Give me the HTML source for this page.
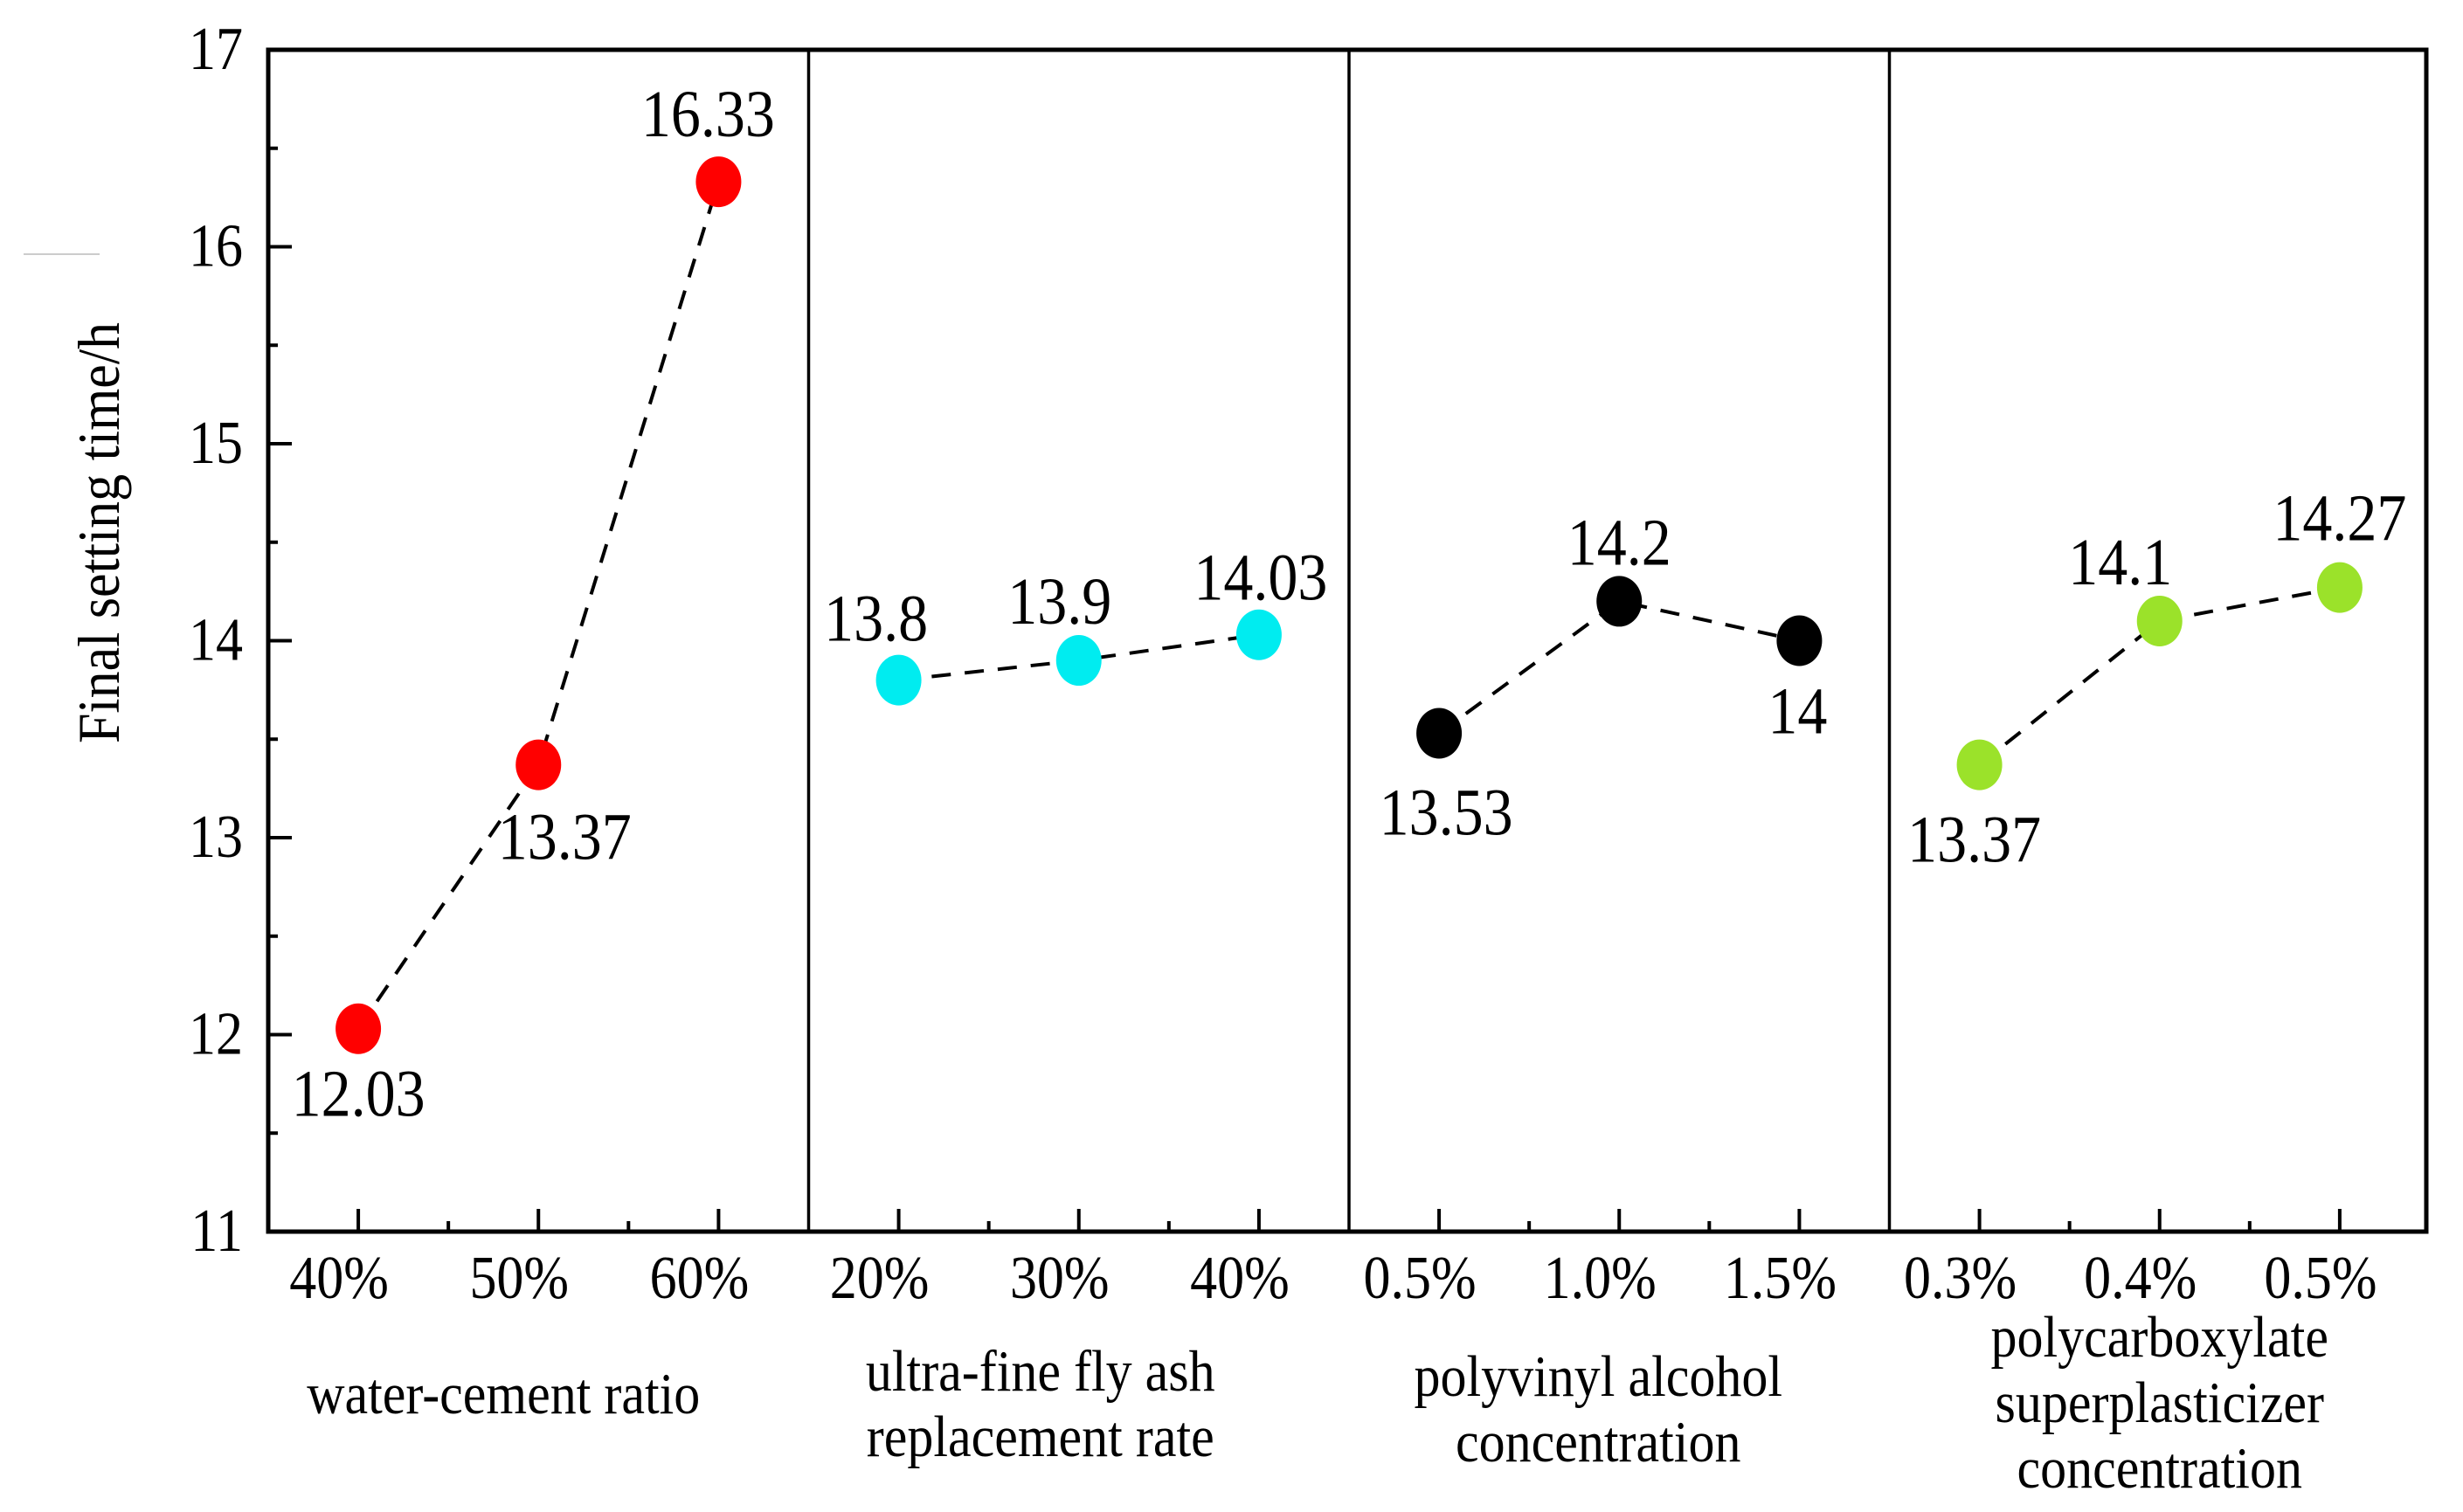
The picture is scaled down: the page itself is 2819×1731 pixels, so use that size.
<!DOCTYPE html>
<html><head><meta charset="utf-8"><style>
html,body{margin:0;padding:0;background:#fff;}
svg{display:block;font-family:"Liberation Serif",serif;}
</style></head><body>
<svg id="chart" width="2819" height="1731" viewBox="0 0 2819 1731" xmlns="http://www.w3.org/2000/svg">
<line x1="27" y1="291" x2="114" y2="291" stroke="#ccc" stroke-width="2"/>
<text transform="translate(136,610) rotate(-90) scale(1,1.1)" text-anchor="middle" font-size="62">Final setting time/h</text>
<g id="plot"></g>
</svg>
<script>
const yTicks = [11,12,13,14,15,16,17];
const groupNames = ["water-cement ratio","ultra-fine fly ash replacement rate","polyvinyl alcohol concentration","polycarboxylate superplasticizer concentration"];
const groupLabelLines = [["water-cement ratio"],["ultra-fine fly ash","replacement rate"],["polyvinyl alcohol","concentration"],["polycarboxylate","superplasticizer","concentration"]];
const xLabelsWC = ["40%","50%","60%"];
const xLabelsFA = ["20%","30%","40%"];
const xLabelsPVA = ["0.5%","1.0%","1.5%"];
const xLabelsPCE = ["0.3%","0.4%","0.5%"];
const valuesWC = [12.03,13.37,16.33];
const valuesFA = [13.8,13.9,14.03];
const valuesPVA = [13.53,14.2,14.0];
const valuesPCE = [13.37,14.1,14.27];
const printedWC = ["12.03","13.37","16.33"];
const printedFA = ["13.8","13.9","14.03"];
const printedPVA = ["13.53","14.2","14"];
const printedPCE = ["13.37","14.1","14.27"];

const colors = ["#ff0000","#00ecf0","#000000","#9be22a"];
const labelOff = [[[0,100],[30,108],[-12,-52]],[[-26,-45],[-22,-42],[2,-40]],[[8,116],[0,-42],[-2,106]],[[-6,111],[-45,-42],[0,-54]]];

const NS="http://www.w3.org/2000/svg";
const plot=document.getElementById('plot');
const L=307,T=57,B=1410,PW=618.5,R=L+PW*4-4;
const ymin=11,ymax=17;
function y(v){return B-(v-ymin)*(B-T)/(ymax-ymin);}
function x(g,i){return L+g*PW+PW/6*(2*i+1);}
function mk(tag,attrs,parent){const e=document.createElementNS(NS,tag);for(const k in attrs)e.setAttribute(k,attrs[k]);(parent||plot).appendChild(e);return e;}
function txt(px,py,size,s,parent){
  const t=mk('text',{transform:'translate('+px+','+py+') scale(1,1.12)','text-anchor':'middle','font-size':size},parent);
  t.textContent=s;return t;
}

const xLabels=[xLabelsWC,xLabelsFA,xLabelsPVA,xLabelsPCE];
const values=[valuesWC,valuesFA,valuesPVA,valuesPCE];
const printed=[printedWC,printedFA,printedPVA,printedPCE];

const frame=mk('rect',{x:L,y:T,width:R-L,height:B-T,fill:'none',stroke:'#000','stroke-width':5});


for(let g=1;g<4;g++){
  const d=mk('line',{x1:L+g*PW,y1:T,x2:L+g*PW,y2:B,stroke:'#000','stroke-width':3.5});
  
  
}
yTicks.forEach((t,i)=>{
  const yy=y(t);
  if(i>0&&i<yTicks.length-1){
    const tk=mk('line',{x1:L,y1:yy,x2:L+27,y2:yy,stroke:'#000','stroke-width':4});
    
    
  }
  if(i<yTicks.length-1){
    const mid=y(t+0.5);
    const mt=mk('line',{x1:L,y1:mid,x2:L+11,y2:mid,stroke:'#000','stroke-width':4});
    
    
  }
  const lb=mk('text',{transform:'translate(278,'+(yy+22)+') scale(1,1.12)','text-anchor':'end','font-size':62});
  lb.textContent=t;
  
  
});
for(let g=0;g<4;g++){
  const grp=mk('g',{});
  
  
  for(let i=0;i<3;i++){
    const tk=mk('line',{x1:x(g,i),y1:B,x2:x(g,i),y2:B-26,stroke:'#000','stroke-width':4},grp);
    
    
    if(i<2){
      const mx=(x(g,i)+x(g,i+1))/2;
      const mt=mk('line',{x1:mx,y1:B,x2:mx,y2:B-12,stroke:'#000','stroke-width':4},grp);
      
      
    }
    const tl=txt(x(g,i)-22,1486,62,xLabels[g][i],grp);
    
    
  }
  const pts=values[g].map((v,i)=>x(g,i)+','+y(v)).join(' ');
  const ln=mk('polyline',{points:pts,fill:'none',stroke:'#000','stroke-width':4,'stroke-dasharray':'22 16'},grp);
  
  
  values[g].forEach((v,i)=>{
    const c=mk('ellipse',{cx:x(g,i),cy:y(v),rx:26,ry:29,fill:colors[g]},grp);
    
    
    const t=txt(x(g,i)+labelOff[g][i][0],y(v)+labelOff[g][i][1],68,printed[g][i],grp);
    
    
  });
  const lines=groupLabelLines[g];
  const starts=[1618,1592,1598,1553];
  lines.forEach((s,k)=>{
    const t=txt(L+g*PW+PW/2+(g==0?-40:(g==1?-44:(g==2?-24:0))),starts[g]+k*75,60,s,grp);
    
    
  });
}
</script>
</body></html>
